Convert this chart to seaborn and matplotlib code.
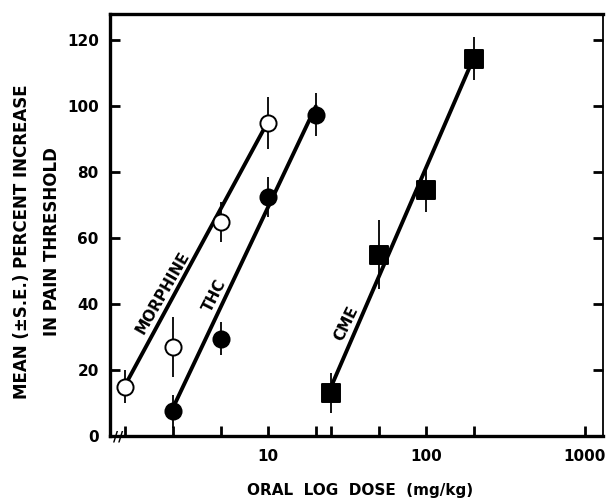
import matplotlib
matplotlib.use("Agg")
import matplotlib.pyplot as plt
import numpy as np
import pandas as pd
import seaborn as sns

# doses (mg/kg) and mean % increase, with S.E.
morphine_dose = [1.25, 2.5, 5, 10]
morphine_mean = [15, 27, 65, 95]
morphine_se = [5, 9, 6, 8]

thc_dose = [2.5, 5, 10, 20]
thc_mean = [7.5, 29.5, 72.5, 97.5]
thc_se = [5, 5, 6, 6.5]

cme_dose = [25, 50, 100, 200]
cme_mean = [13, 55, 74.5, 114.5]
cme_se = [6, 10.5, 6.5, 6.5]

# hand-fitted dose-response lines (end points)
morphine_fit_dose = [1.3, 10]
morphine_fit_y = [17, 95.5]
thc_fit_dose = [2.5, 20]
thc_fit_y = [8.5, 100]
cme_fit_dose = [25, 200]
cme_fit_y = [15, 115]

x_ticks = [1.25, 2.5, 5, 10, 20, 25, 50, 100, 200, 1000]
x_tick_labels = ["", "", "", "10", "", "", "", "100", "", "1000"]
y_ticks = [0, 20, 40, 60, 80, 100, 120]

sns.set_style("ticks")
plt.rcParams['font.family'] = ['DejaVu Sans']
plt.rcParams['font.weight'] = 'bold'
plt.rcParams['text.color'] = 'black'
plt.rcParams['axes.edgecolor'] = 'black'
plt.rcParams['xtick.color'] = 'black'
plt.rcParams['ytick.color'] = 'black'
plt.rcParams['axes.labelcolor'] = 'black'

fig = plt.figure(figsize=(6.07, 5.03), dpi=100)
ax = fig.add_axes([0.181, 0.133, 0.812, 0.839])
ax.set_xscale("log")

series = [
    (morphine_dose, morphine_mean, morphine_se, "o", "white"),
    (thc_dose, thc_mean, thc_se, "o", "black"),
    (cme_dose, cme_mean, cme_se, "s", "black"),
]
for dose, mean, se, mk, fc in series:
    ax.errorbar(dose, mean, yerr=se, fmt="none", ecolor="black",
                elinewidth=1.3, capsize=0, zorder=2)

for fd, fy in [(morphine_fit_dose, morphine_fit_y),
               (thc_fit_dose, thc_fit_y),
               (cme_fit_dose, cme_fit_y)]:
    sns.lineplot(x=fd, y=fy, ax=ax, color="black", lw=2.8, zorder=3)

for dose, mean, se, mk, fc in series:
    df = pd.DataFrame({"dose": dose, "mean": mean})
    sns.scatterplot(data=df, x="dose", y="mean", ax=ax, marker=mk,
                    s=135 if mk == "o" else 150, color=fc,
                    edgecolor="black", linewidth=1.4, zorder=4)

# curve labels
lab = dict(fontsize=11, fontweight="bold", ha="center", va="center",
           rotation_mode="anchor")
ax.text(2.15, 43.5, "MORPHINE", rotation=60, **lab)
ax.text(4.6, 42.5, "THC", rotation=63, **lab)
ax.text(31, 34, "CME", rotation=64, **lab)

ax.set_xlim(1.0, 1300)
ax.set_ylim(0, 128)
ax.set_xticks(x_ticks)
ax.set_xticklabels(x_tick_labels)
ax.xaxis.set_minor_locator(matplotlib.ticker.NullLocator())
ax.set_yticks(y_ticks)
ax.set_yticklabels([str(v) for v in y_ticks])
ax.tick_params(axis="both", direction="in", length=7, width=2,
               labelsize=11, top=False, right=True, colors="black")
ax.tick_params(axis="x", pad=9)
ax.tick_params(axis="y", pad=8)
for lbl in ax.get_xticklabels() + ax.get_yticklabels():
    lbl.set_fontweight("bold")

for side in ["left", "bottom", "top"]:
    ax.spines[side].set_linewidth(2.4)
ax.spines["right"].set_linewidth(1.3)

ax.set_xlabel("")
ax.set_ylabel("")

# axis break mark
ax.text(0.016, 0.0, "//", transform=ax.transAxes, fontsize=10,
        fontweight="bold", ha="center", va="center")

fig.text(0.061, 1 - 242 / 503,
         "MEAN (\u00b1S.E.) PERCENT INCREASE\nIN PAIN THRESHOLD",
         rotation=90, ha="center", va="center", multialignment="center",
         fontsize=12, fontweight="bold", linespacing=1.8)
fig.text(360 / 607, 1 - 490 / 503, "ORAL  LOG  DOSE  (mg/kg)",
         ha="center", va="center", fontsize=11, fontweight="bold")

fig.savefig("out.png", dpi=100)
